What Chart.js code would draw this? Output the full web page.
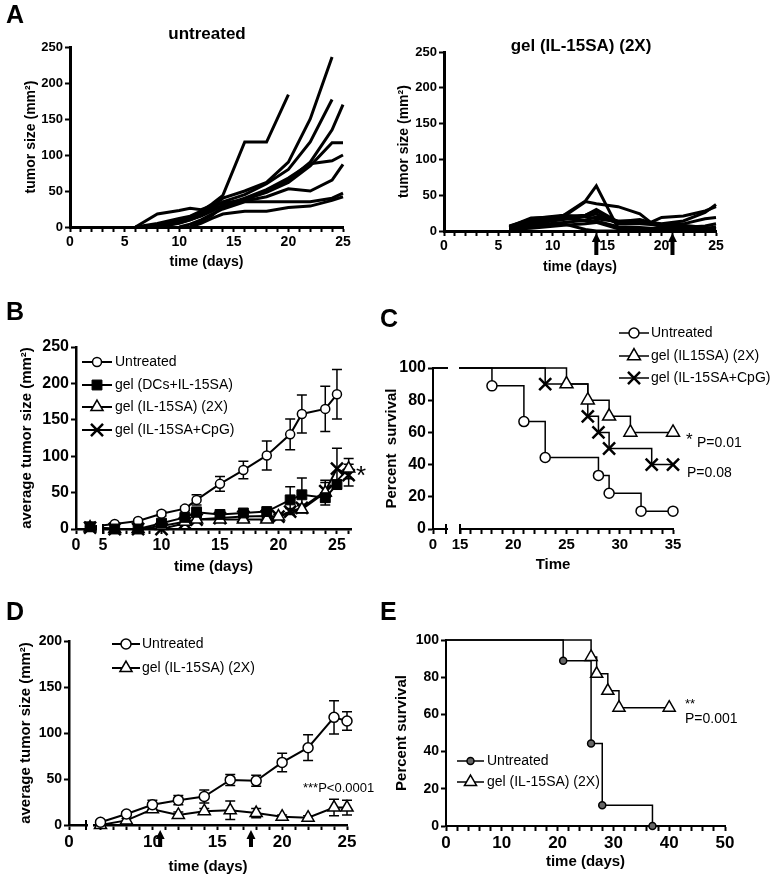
<!DOCTYPE html>
<html><head><meta charset="utf-8">
<script src="https://cdn.jsdelivr.net/npm/chart.js@4.4.1/dist/chart.umd.min.js"></script>
<style>
html,body{margin:0;padding:0;background:#fff}
body{width:774px;height:880px;position:relative;overflow:hidden}
canvas{position:absolute;display:block}
</style></head><body>
<canvas id="cA1"></canvas><canvas id="cA2"></canvas><canvas id="cB"></canvas><canvas id="cC"></canvas><canvas id="cD"></canvas><canvas id="cE"></canvas>
<script>
// ================= DATA =================
// Panel A (left): untreated, individual mice
const aDays = [6, 8, 10, 11, 12, 13, 14, 16, 18, 20, 22, 24, 25];
const aUnt1 = [0, 5, 12, 15, 22, 32, 44, 118, 118, 184, null, null, null];
const aUnt2 = [0, 2, 10, 14, 20, 28, 40, 50, 62, 90, 150, 236, null];
const aUnt3 = [null, 0, 8, 12, 18, 26, 35, 45, 60, 80, 118, 177, null];
const aUnt4 = [null, null, null, 0, 8, 16, 28, 38, 50, 65, 90, 135, 170];
const aUnt5 = [0, 18, 23, 26, 24, 30, 33, 38, 48, 62, 85, 117, 117];
const aUnt6 = [null, 0, 5, 10, 15, 22, 30, 40, 52, 68, 88, 92, 100];
const aUnt7 = [null, 0, 6, 10, 16, 24, 30, 36, 42, 53, 50, 65, 87];
const aUnt8 = [null, null, 0, 4, 10, 18, 25, 35, 35, 35, 35, 40, 47];
const aUnt9 = [null, null, null, 0, 5, 12, 18, 22, 22, 27, 29, 37, 42];
const aUntMice = [aUnt1, aUnt2, aUnt3, aUnt4, aUnt5, aUnt6, aUnt7, aUnt8, aUnt9];

// Panel A (right): gel (IL-15SA) (2X), individual mice
const gDays = [6, 8, 11, 13, 14, 16, 18, 19, 20, 22, 24, 25];
const gMouse1 = [5, 17, 22, 42, 63, 4, 3, 2, 2, 2, 3, 6];
const gMouse2 = [4, 12, 20, 41, 38, 34, 24, 12, 10, 14, 26, 37];
const gMouse3 = [6, 18, 20, 22, 30, 13, 12, 12, 19, 21, 28, 34];
const gMouse4 = [3, 10, 16, 20, 24, 10, 10, 9, 8, 10, 17, 19];
const gMouse5 = [2, 8, 12, 15, 20, 14, 14, 10, 6, 5, 7, 10];
const gMouse6 = [7, 16, 18, 14, 14, 6, 5, 4, 4, 3, 3, 3];
const gMouse7 = [1, 6, 10, 2, 0, 0, 0, 0, 0, 0, 0, 0];
const gMouse8 = [4, 14, 17, 22, 28, 12, 11, 12, 9, 8, 5, 4];
const gMouse9 = [2, 4, 8, 10, 12, 3, 1, 0, 0, 0, 0, 0];
const gMouse10 = [3, 10, 22, 20, 17, 13, 16, 12, 8, 6, 3, 1];
const gMice = [gMouse1, gMouse2, gMouse3, gMouse4, gMouse5, gMouse6, gMouse7, gMouse8, gMouse9, gMouse10];
const aArrowDays = [14, 21];
const aTicksY = [0, 50, 100, 150, 200, 250];
const aLabelsX = [0, 5, 10, 15, 20, 25];

// Panel B: average tumor size
const bUntDays = [2, 6, 8, 10, 12, 13, 15, 17, 19, 21, 22, 24, 25];
const bUnt     = [3, 7, 11, 21, 28, 40, 62, 81, 101, 130, 158, 165, 185];
const bUntErr  = [1, 1, 2, 3, 3, 7, 10, 12, 20, 21, 26, 31, 34];
const bDcDays  = [2, 6, 8, 10, 12, 13, 15, 17, 19, 21, 22, 24, 25];
const bDc      = [3, 0, 0, 8, 16, 23, 20, 22, 24, 40, 47, 43, 61];
const bDcErr   = [1, 0, 0, 2, 3, 7, 3, 3, 5, 18, 23, 6, 6];
const b2xDays  = [2, 6, 8, 10, 12, 13, 15, 17, 19, 20, 22, 24, 26];
const b2x      = [2, 0, 0, 4, 10, 13, 13, 13, 13, 17, 27, 50, 83];
const b2xErr   = [1, 0, 0, 1, 2, 3, 3, 3, 3, 3, 5, 17, 14];
const bCpgDays = [2, 6, 8, 10, 12, 13, 15, 17, 19, 20, 21, 22, 24, 25, 26];
const bCpg     = [2, 0, 0, 0, 8, 13, 15, 17, 18, 17, 24, 29, 52, 83, 74];
const bCpgErr  = [1, 0, 0, 0, 2, 3, 3, 3, 3, 3, 4, 5, 12, 28, 15];
const bLabelsX = [0, 5, 10, 15, 20, 25];
const bTicksY = [0, 50, 100, 150, 200, 250];

// Panel C: survival
const cUntT = [0, 18, 21, 23, 28, 29, 32, 35];
const cUnt  = [100, 88.9, 66.7, 44.4, 33.3, 22.2, 11.1, 11.1];
const c2xT  = [0, 25, 27, 29, 31, 35];
const c2x   = [100, 90, 80, 70, 60, 60];
const cCpgT = [0, 23, 27, 28, 29, 33, 35];
const cCpg  = [100, 90, 70, 60, 50, 40, 40];
const cLabelsX = [0, 15, 20, 25, 30, 35];
const cTicksY = [0, 20, 40, 60, 80, 100];

// Panel D: average tumor size
const dDays   = [6, 8, 10, 12, 14, 16, 18, 20, 22, 24, 25];
const dUnt    = [3, 12, 22, 27, 31, 49, 48, 68, 84, 117, 113];
const dUntErr = [2, 2, 5, 5, 7, 6, 6, 10, 14, 18, 10];
const d2x     = [0, 5, 17, 11, 15, 16, 13, 9, 8, 19, 19];
const d2xErr  = [0, 2, 3, 3, 3, 10, 5, 2, 2, 9, 8];
const dArrowDays = [10.6, 17.6];
const dLabelsX = [0, 10, 15, 20, 25];
const dTicksY = [0, 50, 100, 150, 200];

// Panel E: survival
const eUntT = [0, 21, 26, 28, 37];
const eUnt  = [100, 88.9, 44.4, 11.1, 0];
const e2xT  = [0, 26, 27, 29, 31, 40];
const e2x   = [100, 90.9, 81.8, 72.7, 63.6, 63.6];
const eLabelsX = [0, 10, 20, 30, 40, 50];
const eTicksY = [0, 20, 40, 60, 80, 100];

// ================= HELPERS =================
const FONT = '"Liberation Sans", Arial, Helvetica, sans-serif';
Chart.defaults.font.family = FONT;
Chart.defaults.color = '#000';

const pts = (xs, ys) => xs.map((x, i) => ({x: x, y: (ys[i] === undefined ? null : ys[i])}));
function seq(a, b, step) { const r = []; for (let v = a; v <= b + 1e-9; v += step) r.push(Math.round(v * 1000) / 1000); return r; }

class BrokenLinearScale extends Chart.LinearScale {
  getPixelForValue(v) {
    if (v === null || v === undefined || isNaN(v)) return NaN;
    const b = this.options.brk;
    const L = this.left;
    const rs = L + b.leftPx + b.gapPx;
    if (v <= b.leftMax) return L + (v - this.min) / (b.leftMax - this.min) * b.leftPx;
    if (v >= b.rightMin) return rs + (v - b.rightMin) / (this.max - b.rightMin) * (this.right - rs);
    return L + b.leftPx + (v - b.leftMax) / (b.rightMin - b.leftMax) * b.gapPx;
  }
  getValueForPixel(p) {
    const b = this.options.brk;
    const L = this.left;
    const rs = L + b.leftPx + b.gapPx;
    if (p <= L + b.leftPx) return this.min + (p - L) / b.leftPx * (b.leftMax - this.min);
    if (p >= rs) return b.rightMin + (p - rs) / (this.right - rs) * (this.max - b.rightMin);
    return b.leftMax + (p - L - b.leftPx) / b.gapPx * (b.rightMin - b.leftMax);
  }
}
BrokenLinearScale.id = 'brokenLinear';
BrokenLinearScale.defaults = {};
Chart.register(BrokenLinearScale);

function drawMarker(ctx, st, x, y) {
  const r = st.r;
  ctx.save();
  ctx.lineWidth = st.bw; ctx.strokeStyle = '#000'; ctx.fillStyle = st.fill;
  ctx.beginPath();
  if (st.shape === 'circle') { ctx.arc(x, y, r, 0, Math.PI * 2); ctx.closePath(); }
  else if (st.shape === 'rect') { const h = Math.SQRT1_2 * r; ctx.rect(x - h, y - h, 2 * h, 2 * h); }
  else if (st.shape === 'triangle') {
    let a = 0;
    ctx.moveTo(x + Math.sin(a) * r, y - Math.cos(a) * r); a += 2 * Math.PI / 3;
    ctx.lineTo(x + Math.sin(a) * r, y - Math.cos(a) * r); a += 2 * Math.PI / 3;
    ctx.lineTo(x + Math.sin(a) * r, y - Math.cos(a) * r); ctx.closePath();
  } else if (st.shape === 'crossRot') {
    const h = Math.cos(Math.PI / 4) * r;
    ctx.moveTo(x - h, y - h); ctx.lineTo(x + h, y + h);
    ctx.moveTo(x + h, y - h); ctx.lineTo(x - h, y + h);
  }
  if (st.shape !== 'crossRot') ctx.fill();
  ctx.stroke();
  ctx.restore();
}

function drawArrow(ctx, x, tip, len) {
  ctx.save(); ctx.fillStyle = '#000'; ctx.beginPath();
  ctx.moveTo(x, tip); ctx.lineTo(x + 4.5, tip + 9); ctx.lineTo(x + 2, tip + 9);
  ctx.lineTo(x + 2, tip + len); ctx.lineTo(x - 2, tip + len); ctx.lineTo(x - 2, tip + 9);
  ctx.lineTo(x - 4.5, tip + 9); ctx.closePath(); ctx.fill(); ctx.restore();
}

function makeChart(id, s) {
  const cv = document.getElementById(id);
  const R = s.rect;
  cv.width = R.w; cv.height = R.h;
  cv.style.left = R.x + 'px'; cv.style.top = R.y + 'px';
  cv.style.width = R.w + 'px'; cv.style.height = R.h + 'px';
  const padLeft = s.yTitleCx - 0.6 * s.yTitleFs - R.x;
  const yW = s.area.l - R.x - padLeft;
  const xBottom = s.xTitleCy + 0.6 * s.xTitleFs;
  const padBottom = R.y + R.h - xBottom;
  const xH = xBottom - s.area.b;
  const padTop = s.area.t - R.y;
  const padRight = R.x + R.w - s.area.r;

  const axis = (ax, titleFs) => ({
    min: ax.min, max: ax.max,
    border: {display: true, color: '#000', width: s.axisW},
    grid: {display: true, drawOnChartArea: false, drawTicks: true, tickLength: 5, tickWidth: 2, tickColor: '#000'},
    ticks: {font: {family: FONT, size: ax.fs, weight: 'bold'}, color: '#000', padding: 2, autoSkip: false,
            maxRotation: 0, minRotation: 0,
            callback: (v) => ax.labels.indexOf(v) >= 0 ? String(v) : ''},
    title: {display: true, text: ax.title, font: {family: FONT, size: titleFs, weight: 'bold'}, color: '#000', padding: 0},
    afterBuildTicks: (sc) => { sc.ticks = ax.ticks.map(v => ({value: v})); }
  });
  const xOpt = Object.assign(axis(s.x, s.xTitleFs), {type: s.x.type || 'linear', afterFit: (sc) => { sc.height = xH; }});
  if (s.x.brk) xOpt.brk = s.x.brk;
  const yOpt = Object.assign(axis(s.y, s.yTitleFs), {type: 'linear', afterFit: (sc) => { sc.width = yW; }});

  const datasets = s.series.map((sr) => {
    const st = sr.st;
    const ds = {
      label: sr.label || '', data: sr.pts, borderColor: '#000', borderWidth: st.lw,
      pointStyle: st.shape || 'circle', pointBorderWidth: st.bw, pointBorderColor: '#000',
      pointBackgroundColor: st.fill || '#fff', fill: false, tension: 0, clip: 14,
      spanGaps: !!s.spanGaps, borderJoinStyle: st.join || 'miter', borderCapStyle: 'butt'
    };
    if (sr.survival) { ds.stepped = 'before'; ds.pointRadius = (c) => c.dataIndex === 0 ? 0 : st.r; }
    else ds.pointRadius = st.r;
    if (sr.order !== undefined) ds.order = sr.order;
    return ds;
  });

  const overlay = {
    id: 'overlay',
    beforeDatasetsDraw(chart) {
      const ctx = chart.ctx;
      s.series.forEach((sr, i) => {
        if (!sr.errors) return;
        const meta = chart.getDatasetMeta(i);
        const xs = meta.xScale, ys = meta.yScale;
        ctx.save(); ctx.strokeStyle = '#000'; ctx.lineWidth = s.errW || 1.5;
        sr.pts.forEach((p, j) => {
          const e = sr.errors[j];
          if (!e || p.y === null) return;
          const x = xs.getPixelForValue(p.x);
          const y1 = ys.getPixelForValue(p.y + e), y2 = ys.getPixelForValue(Math.max(p.y - e, 0));
          const c = s.capHalf || 5;
          ctx.beginPath();
          ctx.moveTo(x, y1); ctx.lineTo(x, y2);
          ctx.moveTo(x - c, y1); ctx.lineTo(x + c, y1);
          ctx.moveTo(x - c, y2); ctx.lineTo(x + c, y2);
          ctx.stroke();
        });
        ctx.restore();
      });
    },
    afterDatasetsDraw(chart) {
      if (!s.x.brk) return;
      const ctx = chart.ctx, ca = chart.chartArea, xs = chart.scales.x, b = s.x.brk;
      const gl = xs.left + b.leftPx, gr = gl + b.gapPx;
      ctx.clearRect(gl + 1.5, ca.top - 16, gr - gl - 3, ca.bottom - ca.top + 16 + 2.5);
      ctx.save(); ctx.fillStyle = '#000';
      if (b.bars[0]) ctx.fillRect(gl - 1, ca.bottom - 5, 2, 10);
      if (b.bars[1]) ctx.fillRect(gr - 1, ca.bottom - 5, 2, 10);
      ctx.restore();
    },
    afterDraw(chart) {
      const ctx = chart.ctx;
      if (s.legend) {
        const Lg = s.legend;
        s.series.forEach((sr, i) => {
          if (!sr.label) return;
          const y = Lg.rows[i] - R.y, x0 = Lg.x - R.x;
          ctx.save(); ctx.strokeStyle = '#000'; ctx.lineWidth = sr.st.lw;
          ctx.beginPath(); ctx.moveTo(x0, y); ctx.lineTo(x0 + Lg.len, y); ctx.stroke(); ctx.restore();
          drawMarker(ctx, sr.st, x0 + Lg.len / 2, y);
          ctx.save(); ctx.fillStyle = '#000'; ctx.font = Lg.fs + 'px ' + FONT;
          ctx.textAlign = 'left'; ctx.textBaseline = 'middle';
          ctx.fillText(sr.label, x0 + Lg.len + Lg.gap, y); ctx.restore();
        });
      }
      (s.notes || []).forEach((n) => {
        ctx.save(); ctx.fillStyle = '#000';
        ctx.font = (n.weight || 'normal') + ' ' + n.fs + 'px ' + FONT;
        ctx.textAlign = n.align || 'left'; ctx.textBaseline = 'alphabetic';
        ctx.fillText(n.text, n.x - R.x, n.y - R.y); ctx.restore();
      });
      if (s.arrows) {
        const xs = chart.scales.x;
        s.arrows.days.forEach((d) => drawArrow(ctx, xs.getPixelForValue(d), s.arrows.tip - R.y, s.arrows.len));
      }
    }
  };

  return new Chart(cv, {
    type: 'line',
    data: {datasets: datasets},
    options: {
      responsive: false, animation: false, devicePixelRatio: 1, events: [],
      layout: {padding: {left: padLeft, top: padTop, right: padRight, bottom: padBottom}},
      plugins: {legend: {display: false}, tooltip: {enabled: false}, title: {display: false}},
      scales: {x: xOpt, y: yOpt}
    },
    plugins: [overlay]
  });
}

// ================= STYLES =================
const ST = {
  spag:  {shape: 'circle', r: 0, fill: '#000', bw: 0, lw: 3},
  bUnt:  {shape: 'circle', r: 4.5, fill: '#fff', bw: 1.5, lw: 2},
  bDc:   {shape: 'rect', r: 7, fill: '#000', bw: 1, lw: 2},
  b2x:   {shape: 'triangle', r: 7, fill: '#fff', bw: 1.5, lw: 2},
  bCpg:  {shape: 'crossRot', r: 8.5, fill: '#000', bw: 2.5, lw: 2},
  cUnt:  {shape: 'circle', r: 5, fill: '#fff', bw: 1.5, lw: 1.5},
  c2x:   {shape: 'triangle', r: 7.5, fill: '#fff', bw: 1.5, lw: 1.5},
  cCpg:  {shape: 'crossRot', r: 8.5, fill: '#000', bw: 2.5, lw: 1.5},
  dUnt:  {shape: 'circle', r: 5, fill: '#fff', bw: 1.5, lw: 2},
  d2x:   {shape: 'triangle', r: 7, fill: '#fff', bw: 1.5, lw: 2},
  eUnt:  {shape: 'circle', r: 3.5, fill: '#666', bw: 1.5, lw: 1.5},
  e2x:   {shape: 'triangle', r: 7, fill: '#fff', bw: 1.5, lw: 1.5}
};

// ================= CHARTS =================
makeChart('cA1', {
  rect: {x: 0, y: 0, w: 384, h: 290}, area: {l: 70, t: 47, r: 343, b: 227},
  yTitleCx: 31, yTitleFs: 14, xTitleCy: 262, xTitleFs: 14, axisW: 3, spanGaps: true,
  x: {min: 0, max: 25, ticks: seq(0, 25, 1), labels: aLabelsX, title: 'time (days)', fs: 14},
  y: {min: 0, max: 250, ticks: aTicksY, labels: aTicksY, title: 'tumor size (mm²)', fs: 13},
  series: aUntMice.map(m => ({pts: pts(aDays, m), st: ST.spag})),
  notes: [{text: 'A', x: 6, y: 23, fs: 25, weight: 'bold'},
          {text: 'untreated', x: 207, y: 39, fs: 17, weight: 'bold', align: 'center'}]
});

makeChart('cA2', {
  rect: {x: 380, y: 0, w: 394, h: 290}, area: {l: 444, t: 52, r: 716, b: 231},
  yTitleCx: 404, yTitleFs: 14, xTitleCy: 267, xTitleFs: 14, axisW: 3, spanGaps: true,
  x: {min: 0, max: 25, ticks: seq(0, 25, 1), labels: aLabelsX, title: 'time (days)', fs: 14},
  y: {min: 0, max: 250, ticks: aTicksY, labels: aTicksY, title: 'tumor size (mm²)', fs: 13},
  series: gMice.map(m => ({pts: pts(gDays, m), st: ST.spag})),
  arrows: {days: aArrowDays, tip: 233, len: 22},
  notes: [{text: 'gel (IL-15SA) (2X)', x: 581, y: 51, fs: 17, weight: 'bold', align: 'center'}]
});

makeChart('cB', {
  rect: {x: 0, y: 288, w: 384, h: 292}, area: {l: 76, t: 347, r: 351, b: 529},
  yTitleCx: 27, yTitleFs: 15, xTitleCy: 567, xTitleFs: 15, axisW: 2.5, capHalf: 5,
  x: {type: 'brokenLinear', min: 0, max: 26.2, brk: {leftMax: 2.7, rightMin: 5, leftPx: 19, gapPx: 8, bars: [false, true]},
      ticks: [0].concat(seq(5, 26, 1)), labels: bLabelsX, title: 'time (days)', fs: 16},
  y: {min: 0, max: 250, ticks: bTicksY, labels: bTicksY, title: 'average tumor size (mm²)', fs: 16},
  series: [
    {label: 'Untreated', pts: pts(bUntDays, bUnt), errors: bUntErr, st: ST.bUnt, order: 2},
    {label: 'gel (DCs+IL-15SA)', pts: pts(bDcDays, bDc), errors: bDcErr, st: ST.bDc, order: 1},
    {label: 'gel (IL-15SA) (2X)', pts: pts(b2xDays, b2x), errors: b2xErr, st: ST.b2x, order: 3},
    {label: 'gel (IL-15SA+CpG)', pts: pts(bCpgDays, bCpg), errors: bCpgErr, st: ST.bCpg, order: 4}
  ],
  legend: {x: 82, rows: [362, 385, 407, 430], len: 30, gap: 3, fs: 14},
  notes: [{text: 'B', x: 6, y: 320, fs: 25, weight: 'bold'},
          {text: '*', x: 356, y: 484, fs: 26, weight: 'normal'}]
});

makeChart('cC', {
  rect: {x: 378, y: 288, w: 396, h: 292}, area: {l: 433, t: 368, r: 673, b: 529},
  yTitleCx: 392, yTitleFs: 15, xTitleCy: 565, xTitleFs: 15, axisW: 2,
  x: {type: 'brokenLinear', min: 0, max: 35, brk: {leftMax: 1.2, rightMin: 15, leftPx: 13, gapPx: 14, bars: [true, true]},
      ticks: [0].concat(seq(15, 35, 1)), labels: cLabelsX, title: 'Time', fs: 15},
  y: {min: 0, max: 100, ticks: cTicksY, labels: cTicksY, title: 'Percent  survival', fs: 16},
  series: [
    {label: 'Untreated', pts: pts(cUntT, cUnt), st: ST.cUnt, survival: true},
    {label: 'gel (IL15SA) (2X)', pts: pts(c2xT, c2x), st: ST.c2x, survival: true},
    {label: 'gel (IL-15SA+CpG)', pts: pts(cCpgT, cCpg), st: ST.cCpg, survival: true}
  ],
  legend: {x: 619, rows: [333, 356, 378], len: 30, gap: 2, fs: 14},
  notes: [{text: 'C', x: 380, y: 327, fs: 25, weight: 'bold'},
          {text: '*', x: 686, y: 445, fs: 17},
          {text: 'P=0.01', x: 697, y: 447, fs: 14},
          {text: 'P=0.08', x: 687, y: 477, fs: 14}]
});

makeChart('cD', {
  rect: {x: 0, y: 580, w: 384, h: 300}, area: {l: 69, t: 641, r: 347, b: 825},
  yTitleCx: 26, yTitleFs: 15, xTitleCy: 867, xTitleFs: 15, axisW: 2.5, capHalf: 5,
  x: {type: 'brokenLinear', min: 0, max: 25, brk: {leftMax: 1.3, rightMin: 5.5, leftPx: 17, gapPx: 8, bars: [true, false]},
      ticks: [0].concat(seq(6, 25, 1)), labels: dLabelsX, title: 'time (days)', fs: 17},
  y: {min: 0, max: 200, ticks: dTicksY, labels: dTicksY, title: 'average tumor size (mm²)', fs: 14},
  series: [
    {label: 'Untreated', pts: pts(dDays, dUnt), errors: dUntErr, st: ST.dUnt},
    {label: 'gel (IL-15SA) (2X)', pts: pts(dDays, d2x), errors: d2xErr, st: ST.d2x}
  ],
  legend: {x: 112, rows: [644, 668], len: 28, gap: 2, fs: 14},
  arrows: {days: dArrowDays, tip: 830, len: 17},
  notes: [{text: 'D', x: 6, y: 620, fs: 25, weight: 'bold'},
          {text: '***P<0.0001', x: 303, y: 792, fs: 13}]
});

makeChart('cE', {
  rect: {x: 378, y: 580, w: 396, h: 300}, area: {l: 446, t: 640, r: 725, b: 826},
  yTitleCx: 402, yTitleFs: 15, xTitleCy: 862, xTitleFs: 15, axisW: 2,
  x: {min: 0, max: 50, ticks: seq(0, 50, 2), labels: eLabelsX, title: 'time (days)', fs: 17},
  y: {min: 0, max: 100, ticks: eTicksY, labels: eTicksY, title: 'Percent survival', fs: 14},
  series: [
    {label: 'Untreated', pts: pts(eUntT, eUnt), st: ST.eUnt, survival: true},
    {label: 'gel (IL-15SA) (2X)', pts: pts(e2xT, e2x), st: ST.e2x, survival: true}
  ],
  legend: {x: 457, rows: [761, 782], len: 27, gap: 3, fs: 14},
  notes: [{text: 'E', x: 380, y: 620, fs: 25, weight: 'bold'},
          {text: '**', x: 685, y: 708, fs: 13},
          {text: 'P=0.001', x: 685, y: 723, fs: 14}]
});
</script></body></html>
